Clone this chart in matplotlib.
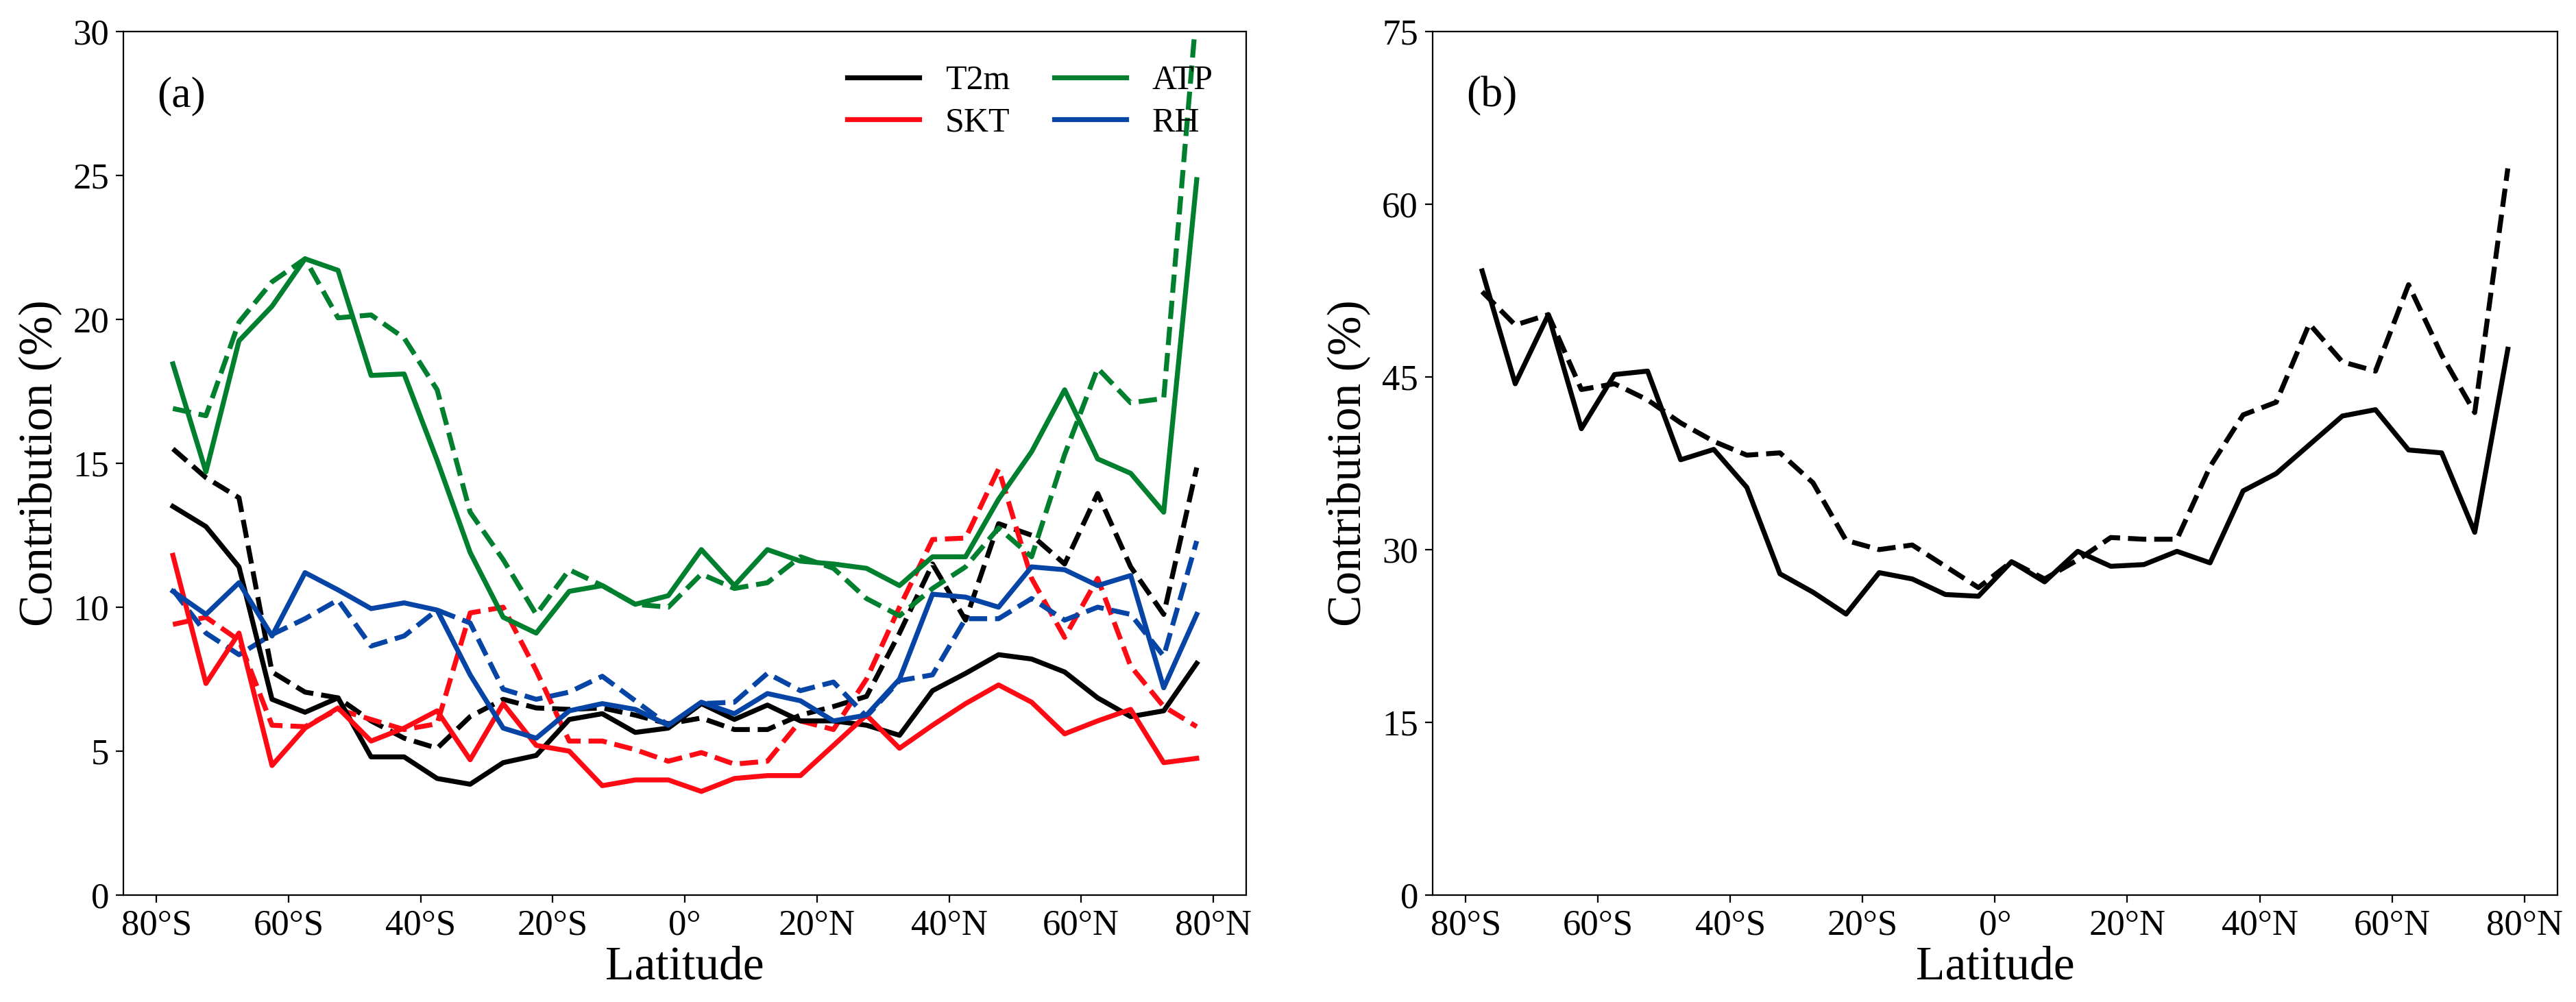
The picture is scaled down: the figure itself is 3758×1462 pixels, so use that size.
import numpy as np
import matplotlib
matplotlib.use("Agg")
import matplotlib.pyplot as plt

plt.rcParams['font.family'] = ['Liberation Serif', 'DejaVu Serif']

# band centres, 5 degree bins
lat = np.arange(-77.5, 80, 5)

# panel (a): solid = first experiment, dashed = second
t2m_solid = [13.5, 12.8, 11.4, 6.8, 6.35, 6.85, 4.8, 4.8, 4.05, 3.85, 4.6, 4.85, 6.1, 6.3, 5.65, 5.8,
             6.65, 6.1, 6.6, 6.05, 6.05, 5.9, 5.55, 7.1, 7.7, 8.35, 8.2, 7.75, 6.85, 6.2, 6.4, 8.05]
t2m_dash = [15.5, 14.5, 13.8, 7.75, 7.05, 6.85, 6.05, 5.45, 5.1, 6.2, 6.8, 6.5, 6.45, 6.5, 6.25, 5.95,
            6.15, 5.75, 5.75, 6.25, 6.55, 6.9, 9.1, 11.5, 9.55, 12.9, 12.5, 11.5, 13.95, 11.4, 9.75, 14.85]
skt_solid = [11.8, 7.35, 9.1, 4.5, 5.8, 6.5, 5.35, 5.8, 6.4, 4.7, 6.65, 5.2, 5.0, 3.8, 4.0, 4.0,
             3.6, 4.05, 4.15, 4.15, 5.2, 6.25, 5.1, 5.9, 6.65, 7.3, 6.7, 5.6, 6.05, 6.45, 4.6, 4.75]
skt_dash = [9.4, 9.65, 8.85, 5.9, 5.85, 6.45, 6.1, 5.75, 5.95, 9.8, 10.0, 7.8, 5.35, 5.35, 5.05, 4.65,
            4.95, 4.55, 4.65, 6.05, 5.75, 7.5, 10.0, 12.35, 12.4, 14.8, 11.0, 8.95, 11.0, 7.95, 6.55, 5.85]
atp_solid = [18.45, 14.7, 19.25, 20.45, 22.1, 21.7, 18.05, 18.1, 15.1, 11.9, 9.65, 9.1, 10.55, 10.75, 10.1, 10.4,
             12.0, 10.75, 12.0, 11.6, 11.5, 11.35, 10.75, 11.75, 11.75, 13.75, 15.4, 17.55, 15.15, 14.65, 13.3, 24.85]
atp_dash = [16.9, 16.65, 19.9, 21.3, 22.1, 20.05, 20.15, 19.35, 17.55, 13.3, 11.65, 9.75, 11.3, 10.75, 10.1, 10.0,
            11.15, 10.65, 10.85, 11.75, 11.35, 10.3, 9.7, 10.65, 11.4, 12.75, 11.75, 15.3, 18.3, 17.1, 17.25, 30.8]
rh_solid = [10.55, 9.75, 10.85, 9.0, 11.2, 10.6, 9.95, 10.15, 9.9, 7.65, 5.8, 5.45, 6.4, 6.65, 6.45, 5.9,
            6.7, 6.3, 7.0, 6.75, 6.05, 6.25, 7.5, 10.45, 10.35, 10.0, 11.4, 11.3, 10.75, 11.1, 7.2, 9.75]
rh_dash = [10.6, 9.1, 8.35, 9.05, 9.6, 10.25, 8.65, 9.0, 9.9, 9.45, 7.15, 6.8, 7.05, 7.6, 6.75, 5.9,
           6.65, 6.7, 7.7, 7.1, 7.4, 6.2, 7.45, 7.65, 9.6, 9.6, 10.3, 9.55, 10.0, 9.75, 8.3, 12.3]

# panel (b): total contribution
total_solid = [54.2, 44.4, 50.4, 40.5, 45.2, 45.5, 37.8, 38.7, 35.4, 27.9, 26.3, 24.4, 28.0, 27.45, 26.1, 25.95,
               28.95, 27.2, 29.85, 28.55, 28.7, 29.85, 28.85, 35.1, 36.6, 39.1, 41.6, 42.15, 38.65, 38.4, 31.5, 47.4]
total_dash = [52.4, 49.5, 50.4, 43.9, 44.4, 43.0, 41.0, 39.4, 38.2, 38.4, 35.8, 30.8, 30.0, 30.4, 28.55, 26.7,
              28.95, 27.45, 29.1, 31.05, 30.9, 30.9, 37.2, 41.7, 42.8, 49.6, 46.3, 45.5, 53.0, 46.9, 41.9, 63.1]

xticks = [-80, -60, -40, -20, 0, 20, 40, 60, 80]
xticklabels = ['80°S', '60°S', '40°S', '20°S', '0°', '20°N', '40°N', '60°N', '80°N']

colors = {'T2m': 'black', 'SKT': '#fe0a14', 'ATP': '#007f2e', 'RH': '#0645a5'}
lw = 2.6

fig = plt.figure(figsize=(18.79, 7.31), dpi=200)
ax1 = fig.add_axes([0.0479, 0.1067, 0.4359, 0.862])
ax2 = fig.add_axes([0.5561, 0.1067, 0.4367, 0.862])

series = [('T2m', t2m_solid, t2m_dash), ('SKT', skt_solid, skt_dash),
          ('ATP', atp_solid, atp_dash), ('RH', rh_solid, rh_dash)]
for name, solid, dash in series:
    ax1.plot(lat, dash, color=colors[name], lw=lw, ls='--')
for name, solid, dash in series:
    ax1.plot(lat, solid, color=colors[name], lw=lw, label=name)

ax2.plot(lat, total_solid, color='black', lw=lw)
ax2.plot(lat, total_dash, color='black', lw=lw, ls='--')

ax1.set_ylim(0, 30)
ax1.set_yticks([0, 5, 10, 15, 20, 25, 30])
ax2.set_ylim(0, 75)
ax2.set_yticks([0, 15, 30, 45, 60, 75])

for ax, tag in [(ax1, '(a)'), (ax2, '(b)')]:
    ax.set_xlim(-85, 85)
    ax.set_xticks(xticks)
    ax.set_xticklabels(xticklabels)
    ax.tick_params(labelsize=19, length=4, width=0.8)
    ax.set_xlabel('Latitude', fontsize=25, labelpad=2)
    ax.set_ylabel('Contribution (%)', fontsize=25, labelpad=6)
    ax.text(0.03, 0.925, tag, transform=ax.transAxes, fontsize=23, va='center')

ax1.legend(loc='upper right', ncol=2, frameon=False, fontsize=18, handlelength=2.1,
           handletextpad=0.75, columnspacing=1.3, labelspacing=0.3,
           bbox_to_anchor=(0.998, 0.997))

fig.savefig('out.png', dpi=200)
